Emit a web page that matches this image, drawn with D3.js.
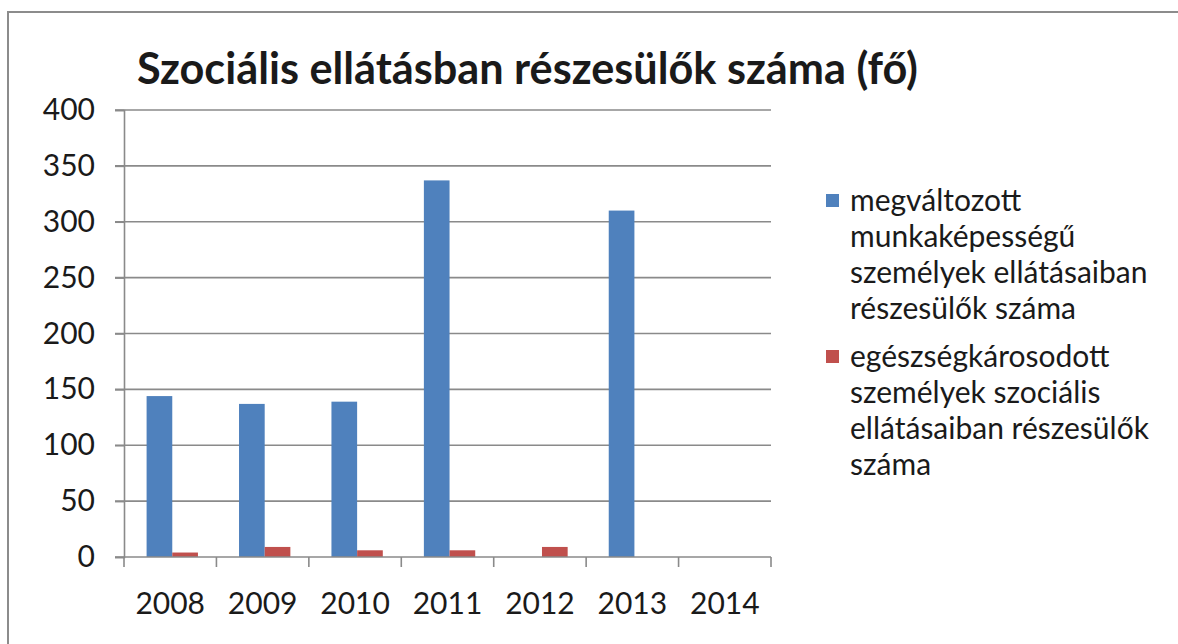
<!DOCTYPE html>
<html>
<head>
<meta charset="utf-8">
<script src="https://cdn.jsdelivr.net/npm/d3@7/dist/d3.min.js"></script>
<style>
  html, body { margin: 0; padding: 0; background: #fff; }
  svg { display: block; }
  text { font-family: Lato, "Open Sans", "Noto Sans", sans-serif; fill: #1a1a1a; }
</style>
</head>
<body>
<svg id="chart" width="1178" height="644"></svg>
<script>
// Years on the category axis
const years = ["2008", "2009", "2010", "2011", "2012", "2013", "2014"];
// Series values (persons); null = no bar
const changedWorkCapacity = [144, 137, 139, 337, null, 310, null];
const healthImpaired = [4, 9, 6, 6, 9, null, null];
const seriesNames = [
  ["megváltozott", "munkaképességű", "személyek ellátásaiban", "részesülők száma"],
  ["egészségkárosodott", "személyek szociális", "ellátásaiban részesülők", "száma"]
];
const seriesColors = ["#4F81BD", "#C0504D"];
const yTicks = [0, 50, 100, 150, 200, 250, 300, 350, 400];
const titleText = "Szociális ellátásban részesülők száma (fő)";

const svg = d3.select("#chart");

// outer frame
svg.append("path")
  .attr("d", "M8,644 L8,12 L1178,12")
  .attr("fill", "none")
  .attr("stroke", "#8c8c8c")
  .attr("stroke-width", 2);

const plot = { left: 124, right: 771, top: 110, bottom: 557 };
const labelSize = 30;

const y = d3.scaleLinear().domain([0, 400]).range([plot.bottom, plot.top]);
const x0 = d3.scaleBand().domain(years).range([plot.left, plot.right]);
const x1 = d3.scaleBand().domain([0, 1]).range([0, x0.bandwidth()])
  .paddingInner(0).paddingOuter(0.8).align(0.55);

// gridlines
svg.append("g")
  .selectAll("line")
  .data(yTicks.filter(d => d > 0))
  .join("line")
  .attr("x1", plot.left - 9).attr("x2", plot.right)
  .attr("y1", d => y(d)).attr("y2", d => y(d))
  .attr("stroke", "#8a8a8a").attr("stroke-width", 1.6);

// y axis
const yAxis = svg.append("g")
  .attr("transform", `translate(${plot.left},0)`)
  .call(d3.axisLeft(y).tickValues(yTicks).tickSize(9).tickPadding(20));
yAxis.select(".domain").attr("stroke", "#8a8a8a").attr("stroke-width", 1.6);
yAxis.selectAll(".tick line").attr("stroke", "#8a8a8a").attr("stroke-width", 1.6);
yAxis.selectAll(".tick text")
  .attr("font-size", labelSize).attr("fill", "#1a1a1a")
  .style("font-family", "Lato, sans-serif");

// bars
const series = [changedWorkCapacity, healthImpaired];
series.forEach((vals, si) => {
  svg.append("g")
    .selectAll("rect")
    .data(years.map((yr, i) => ({ yr, v: vals[i] })).filter(d => d.v != null))
    .join("rect")
    .attr("x", d => x0(d.yr) + x1(si))
    .attr("width", x1.bandwidth())
    .attr("y", d => y(d.v))
    .attr("height", d => y(0) - y(d.v))
    .attr("fill", seriesColors[si]);
});

// x axis
const xAxis = svg.append("g")
  .attr("transform", `translate(0,${plot.bottom})`)
  .call(d3.axisBottom(x0).tickSize(0).tickPadding(36));
xAxis.select(".domain").remove();
xAxis.append("line")
  .attr("x1", plot.left - 9).attr("x2", plot.right)
  .attr("stroke", "#8a8a8a").attr("stroke-width", 1.6);
xAxis.selectAll(".sep")
  .data(d3.range(years.length + 1))
  .join("line")
  .attr("class", "sep")
  .attr("x1", i => plot.left + i * x0.step())
  .attr("x2", i => plot.left + i * x0.step())
  .attr("y1", 0).attr("y2", 10)
  .attr("stroke", "#8a8a8a").attr("stroke-width", 1.6);
xAxis.selectAll(".tick text")
  .attr("font-size", labelSize).attr("fill", "#1a1a1a")
  .style("font-family", "Lato, sans-serif");

// title, scaled to span its column
const title = svg.append("text")
  .attr("x", 137).attr("y", 84)
  .attr("font-size", 36).attr("font-weight", "bold")
  .attr("fill", "#000")
  .text(titleText);
const tw = title.node().getComputedTextLength();
title.attr("font-size", 36 * 781 / tw);

// legend
const legend = svg.append("g");
const legendTop = [200, 356];
const legendSize = 30;
seriesNames.forEach((lines, si) => {
  legend.append("rect")
    .attr("x", 826).attr("y", legendTop[si] - 6)
    .attr("width", 13).attr("height", 13)
    .attr("fill", seriesColors[si]);
  const t = legend.append("text")
    .attr("class", "legend-label")
    .attr("x", 850).attr("y", legendTop[si])
    .attr("font-size", legendSize)
    .attr("fill", "#1a1a1a");
  lines.forEach((ln, li) => {
    t.append("tspan")
      .attr("x", 850)
      .attr("y", legendTop[si] + li * 36)
      .attr("dy", "0.35em")
      .text(ln);
  });
});
// keep the longest legend line inside the right margin
let widest = 0;
legend.selectAll("tspan").each(function () {
  widest = Math.max(widest, this.getComputedTextLength());
});
if (widest > 307) {
  legend.selectAll(".legend-label").attr("font-size", legendSize * 307 / widest);
}
</script>
</body>
</html>
